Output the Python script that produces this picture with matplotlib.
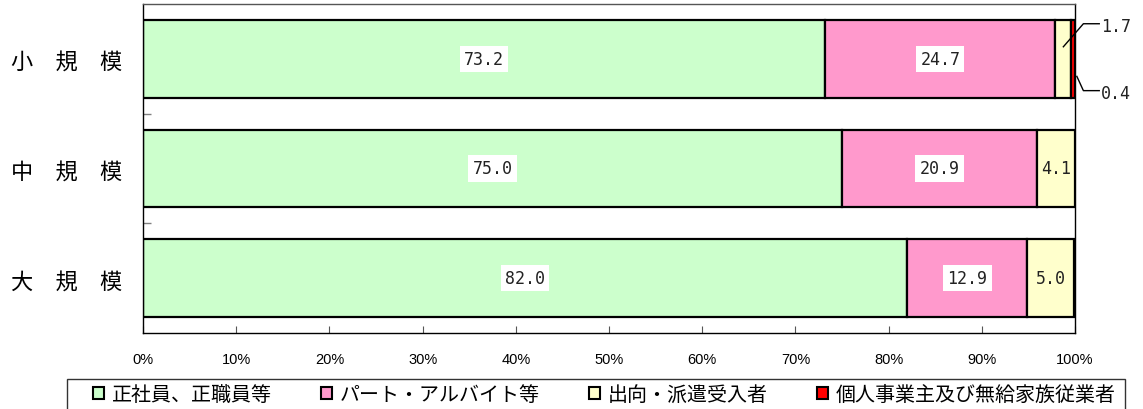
import numpy as np
import matplotlib.pyplot as plt
from matplotlib.patches import Rectangle

plt.rcParams['font.family'] = ['Noto Sans CJK JP', 'DejaVu Sans']

# 規模別の就業形態構成比 (%)
categories = ['小　規　模', '中　規　模', '大　規　模']
seishain = [73.2, 75.0, 82.0]
part = [24.7, 20.9, 12.9]
shukko = [1.7, 4.1, 5.0]
kojin = [0.4, 0.0, 0.0]

series_names = ['正社員、正職員等', 'パート・アルバイト等', '出向・派遣受入者', '個人事業主及び無給家族従業者']
series_colors = ['#CCFFCC', '#FF99CC', '#FFFFCC', '#FF0000']
series = [seishain, part, shukko, kojin]

W, H = 1143, 410
fig = plt.figure(figsize=(W / 100, H / 100), dpi=100)
ax = fig.add_axes([143 / W, 1 - 334 / H, 932 / W, 329 / H])

y = np.arange(len(categories))
bar_h = 0.71
left = np.zeros(len(categories))
handles = []
for name, vals, color in zip(series_names, series, series_colors):
    vals = np.array(vals)
    mask = vals > 0
    ax.barh(y[mask], vals[mask], left=left[mask], height=bar_h,
            color=color, edgecolor='black', linewidth=1.6, zorder=2)
    handles.append(Rectangle((0, 0), 1, 1, facecolor=color, edgecolor='black', linewidth=1.5))
    for i in range(len(categories)):
        v = vals[i]
        if v >= 4:
            box = None
            if color != '#FFFFCC':
                box = dict(boxstyle='square,pad=0.25', facecolor='white', edgecolor='none')
            ax.text(left[i] + v / 2, y[i], f'{v:.1f}', ha='center', va='center',
                    family='DejaVu Sans Mono', fontsize=12, color='#222222',
                    bbox=box, zorder=3)
    left = left + vals

# small shares of 小規模 get leader lines outside the bar
row = 0
start_small = seishain[row] + part[row]
callouts = [
    (start_small + shukko[row] / 2, -0.11, -0.32, shukko[row]),
    (start_small + shukko[row] + kojin[row] + 0.2, 0.16, 0.29, kojin[row]),
]
for x0, dy0, dy1, v in callouts:
    xe = 100.9
    ax.plot([x0, xe, 102.6], [row + dy0, row + dy1, row + dy1], color='black',
            linewidth=1.0, clip_on=False, zorder=4)
    ax.text(102.8, row + dy1 + 0.02, f'{v:.1f}', ha='left', va='center',
            family='DejaVu Sans Mono', fontsize=12, color='#222222')

ax.set_xlim(0, 100)
ax.set_ylim(len(categories) - 0.5, -0.5)
ax.set_xticks(np.arange(0, 101, 10))
ax.set_xticklabels([f'{v}%' for v in range(0, 101, 10)],
                   family='Liberation Sans', fontsize=10.5)
ax.tick_params(axis='x', direction='in', length=5, width=0.8, color='#555555', pad=14)
ax.set_yticks(y)
ax.set_yticklabels(categories, fontsize=16)
ax.tick_params(axis='y', which='major', length=0, pad=15)
ax.set_yticks(y[:-1] + 0.5, minor=True)
ax.tick_params(axis='y', which='minor', direction='in', length=6, width=1, color='#808080')
for side, sp in ax.spines.items():
    sp.set_linewidth(1.0)
    sp.set_color('black')
ax.spines['top'].set_color('#555555')

# legend frame runs off the bottom of the figure
fig.patches.append(Rectangle((67 / W, -0.2), (1125 - 67) / W, 0.2 + 1 - 380 / H,
                             transform=fig.transFigure, fill=False,
                             edgecolor='#333333', linewidth=1.0))
fig.legend(handles, series_names, loc='upper left', bbox_to_anchor=(93 / W, 1 - 385 / H),
           ncol=4, frameon=False, fontsize=14.4, borderpad=0, borderaxespad=0,
           handlelength=0.55, handleheight=0.55, handletextpad=0.4, columnspacing=2.45)

fig.savefig('out.png', dpi=100)
